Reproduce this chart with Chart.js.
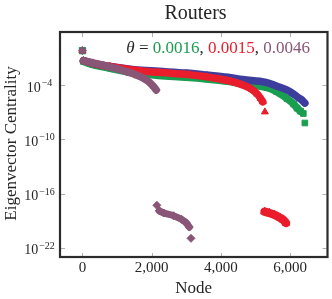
<!DOCTYPE html>
<html>
<head>
<meta charset="utf-8">
<script src="https://cdn.jsdelivr.net/npm/chart.js@4.4.1/dist/chart.umd.min.js"></script>
<style>
  html, body { margin: 0; padding: 0; background: #fff; }
  canvas { display: block; }
</style>
</head>
<body>
<canvas id="chart" width="332" height="299"></canvas>
<script>
// node index (x) and log10 of eigenvector centrality (y)
const topX = [0];

const blueX = [30, 300, 800, 1500, 2200, 3000, 3600, 4200, 4630, 5300, 5600, 5910, 6100, 6200, 6320, 6425];
const blueLog = [-1.3, -1.6, -1.95, -2.3, -2.48, -2.68, -2.9, -3.15, -3.4, -3.7, -4.1, -4.55, -5.0, -5.3, -5.6, -6.0];
const blueTop = [-0.2];

const greenX = [30, 300, 800, 1500, 2200, 3000, 3600, 4200, 4630, 5340, 5600, 5910, 6100, 6200, 6300];
const greenLog = [-1.4, -1.75, -2.15, -2.65, -2.95, -3.15, -3.35, -3.6, -3.9, -4.3, -4.7, -5.5, -6.1, -6.55, -6.9];
const greenTop = [-0.2];
const greenEndX = [6380, 6425];
const greenEndLog = [-7.15, -8.2];

const redX = [30, 300, 800, 1575, 2200, 3090, 3600, 3920, 4300, 4630, 4900, 5050, 5150, 5210];
const redLog = [-1.3, -1.6, -1.95, -2.4, -2.6, -2.85, -3.1, -3.3, -3.6, -4.0, -4.5, -5.0, -5.5, -5.85];
const redTop = [-0.2];
const redEndX = [5270];
const redEndLog = [-6.97];
const redTailX = [5260, 5400, 5550, 5700, 5800, 5880];
const redTailLog = [-18.0, -18.15, -18.35, -18.65, -18.9, -19.25];

const purpleX = [30, 300, 700, 1000, 1290, 1500, 1765, 1900, 2000, 2080, 2130];
const purpleLog = [-1.3, -1.55, -1.9, -2.2, -2.55, -2.8, -3.25, -3.6, -3.95, -4.3, -4.55];
const purpleTop = [-0.2];
const purpleTailX = [2220, 2350, 2630, 2860, 3000, 3085];
const purpleTailLog = [-17.9, -18.15, -18.45, -18.85, -19.25, -19.7];
const purpleEndX = [2150, 3135];
const purpleEndLog = [-17.3, -20.95];

const xTicks = [0, 2000, 4000, 6000];
const yTickExp = [-4, -10, -16, -22];
const thetas = ['0.0016', '0.0015', '0.0046'];

const BLUE = '#3d3d9e', GREEN = '#1a9e50', RED = '#ea1d2c', PURPLE = '#8a5677';
const INK = '#262626';
const SERIF = '"Liberation Serif", "DejaVu Serif", serif';

function pts(xs, logs) {
    return xs.map((x, i) => ({ x: x, y: Math.pow(10, logs[i]) }));
}

// a thick line with markers on it, for the dense runs of points
function band(xs, logs, color, style, radius, order, width) {
    return {
        data: pts(xs, logs),
        showLine: true,
        borderColor: color,
        borderWidth: width || 7.5,
        borderCapStyle: 'round',
        cubicInterpolationMode: 'monotone',
        pointStyle: style,
        pointRadius: radius,
        pointBackgroundColor: color,
        pointBorderColor: color,
        pointBorderWidth: 1,
        order: order
    };
}

// single markers that stand apart
function marks(xs, logs, color, style, radius, order) {
    return {
        data: pts(xs, logs),
        showLine: false,
        pointStyle: style,
        pointRadius: radius,
        pointBackgroundColor: color,
        pointBorderColor: color,
        pointBorderWidth: 1,
        order: order
    };
}

const datasets = [
    band(purpleX, purpleLog, PURPLE, 'rectRot', 4, 0),
    band(purpleTailX, purpleTailLog, PURPLE, 'rectRot', 4, 0, 7),
    marks(purpleEndX, purpleEndLog, PURPLE, 'rectRot', 4, 0),
    marks(topX, purpleTop, PURPLE, 'rectRot', 4, 0),
    band(redX, redLog, RED, 'triangle', 4, 1),
    band(redTailX, redTailLog, RED, 'triangle', 4.5, 1, 8.5),
    marks(redEndX, redEndLog, RED, 'triangle', 4, 1),
    marks(topX, redTop, RED, 'triangle', 4, 1),
    band(blueX, blueLog, BLUE, 'circle', 3, 2),
    marks(topX, blueTop, BLUE, 'circle', 3, 2),
    band(greenX, greenLog, GREEN, 'rect', 4, 3),
    marks(greenEndX, greenEndLog, GREEN, 'rect', 4, 3),
    marks(topX, greenTop, GREEN, 'rect', 4.5, 3)
];

const decorations = {
    id: 'decorations',
    afterDraw(chart) {
        const { ctx, chartArea: a, scales: { x, y } } = chart;
        ctx.save();

        // tick marks on all four sides
        ctx.strokeStyle = '#b0b0b0';
        ctx.lineWidth = 1;
        xTicks.forEach(v => {
            const px = Math.round(x.getPixelForValue(v)) + 0.5;
            ctx.beginPath();
            ctx.moveTo(px, a.top); ctx.lineTo(px, a.top + 4);
            ctx.moveTo(px, a.bottom + 1); ctx.lineTo(px, a.bottom - 3);
            ctx.stroke();
        });
        yTickExp.forEach(e => {
            const py = Math.round(y.getPixelForValue(Math.pow(10, e))) + 0.5;
            ctx.beginPath();
            ctx.moveTo(a.left, py); ctx.lineTo(a.left + 4, py);
            ctx.moveTo(a.right, py); ctx.lineTo(a.right - 4, py);
            ctx.stroke();
        });

        // frame
        ctx.strokeStyle = '#2b2b2b';
        ctx.lineWidth = 2.2;
        ctx.strokeRect(a.left - 1, a.top - 1, a.right - a.left + 2, a.bottom - a.top + 2);

        ctx.fillStyle = INK;

        // x tick labels
        ctx.font = '15px ' + SERIF;
        ctx.textAlign = 'center';
        ctx.textBaseline = 'alphabetic';
        xTicks.forEach(v => {
            ctx.fillText(v.toLocaleString('en-US'), x.getPixelForValue(v), 272);
        });

        // y tick labels as 10 with a superscript
        yTickExp.forEach(e => {
            const py = y.getPixelForValue(Math.pow(10, e));
            const sup = '\u2212' + Math.abs(e);
            ctx.font = '14px ' + SERIF;
            const wBase = ctx.measureText('10').width;
            ctx.font = '10px ' + SERIF;
            const wSup = ctx.measureText(sup).width;
            const left = 39.5 - (wBase + wSup + 1) / 2;
            ctx.textAlign = 'left';
            ctx.font = '14px ' + SERIF;
            ctx.fillText('10', left, py + 6.5);
            ctx.font = '10px ' + SERIF;
            ctx.fillText(sup, left + wBase + 1, py + 1);
        });

        // axis titles
        ctx.font = '17px ' + SERIF;
        ctx.textAlign = 'center';
        ctx.fillText('Node', (a.left + a.right) / 2, 293);
        ctx.save();
        ctx.translate(16, 143.5);
        ctx.rotate(-Math.PI / 2);
        ctx.fillText('Eigenvector Centrality', 0, 0);
        ctx.restore();

        // chart title
        ctx.font = '20px ' + SERIF;
        ctx.fillText('Routers', 195.5, 19);

        // theta annotation, coloured per series
        const parts = [
            { t: '\u03B8', c: INK, f: 'italic 17px ' + SERIF },
            { t: ' = ', c: INK },
            { t: thetas[0], c: GREEN },
            { t: ', ', c: INK },
            { t: thetas[1], c: RED },
            { t: ', ', c: INK },
            { t: thetas[2], c: PURPLE }
        ];
        const base = '17px ' + SERIF;
        let total = 0;
        parts.forEach(p => { ctx.font = p.f || base; p.w = ctx.measureText(p.t).width; total += p.w; });
        let cx = 310 - total;
        ctx.textAlign = 'left';
        parts.forEach(p => {
            ctx.font = p.f || base;
            ctx.fillStyle = p.c;
            ctx.fillText(p.t, cx, 53);
            cx += p.w;
        });

        ctx.restore();
    }
};

new Chart(document.getElementById('chart'), {
    type: 'scatter',
    data: { datasets: datasets },
    options: {
        responsive: false,
        animation: false,
        devicePixelRatio: 1,
        layout: { padding: { left: 61, right: 2, top: 33, bottom: 43 } },
        plugins: { legend: { display: false }, tooltip: { enabled: false } },
        scales: {
            x: { type: 'linear', display: false, min: -620, max: 7050 },
            y: { type: 'logarithmic', display: false, min: Math.pow(10, -22.9), max: Math.pow(10, 1.75) }
        }
    },
    plugins: [decorations]
});
</script>
</body>
</html>
